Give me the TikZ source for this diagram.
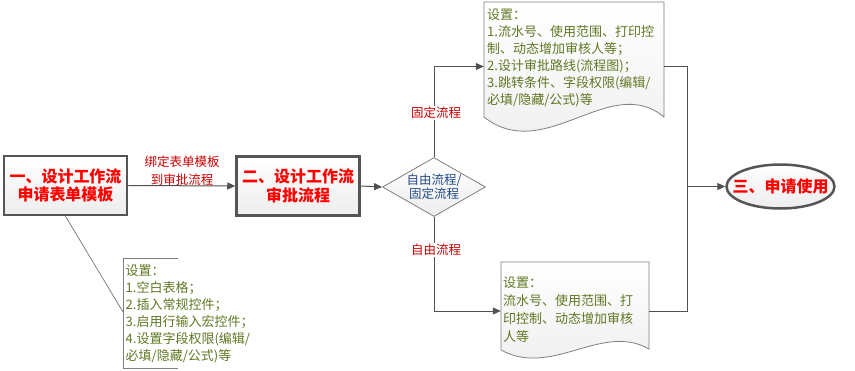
\documentclass[tikz,border=0pt]{standalone}
\usepackage{fontspec}
\setmainfont{Noto Sans CJK SC}
\usetikzlibrary{arrows.meta,shapes.geometric}
\definecolor{lineg}{RGB}{80,80,80}
\definecolor{boxb}{RGB}{85,85,85}
\definecolor{thing}{RGB}{128,128,128}
\definecolor{tred}{RGB}{255,0,0}
\definecolor{lred}{RGB}{200,0,0}
\definecolor{tgreen}{RGB}{95,120,35}
\definecolor{tblue}{RGB}{35,75,135}
\tikzset{
  mainbox/.style={draw=boxb, line width=2.5pt, top color=white, bottom color=gray!14,
    rectangle, inner sep=0pt, minimum width=123pt, minimum height=59pt,
    align=center, text=tred, font=\bfseries\fontsize{16}{18.5}\selectfont},
  thinshape/.style={draw=thing, line width=0.8pt, top color=white, bottom color=gray!14},
  conn/.style={draw=lineg, line width=1pt},
  arr/.style={conn, -{Triangle[length=8pt,width=7pt]}},
  lbl/.style={text=lred, font=\fontsize{12.5}{18}\selectfont, align=center, inner sep=1pt},
  greentext/.style={text=tgreen, align=left, inner sep=0pt, anchor=north west},
  ghost/.style={draw=none, rectangle, inner sep=0pt}
}
\begin{document}
\begin{tikzpicture}[x=1pt,y=-1pt]
\useasboundingbox (0,0) rectangle (855,370);

% main boxes
\node[mainbox] (b1) at (65.5,185.5) {一、设计工作流\\申请表单模板};
\node[mainbox] (b2) at (298,186) {二、设计工作流\\审批流程};

% diamond
\node[diamond, thinshape, minimum width=103pt, minimum height=59pt, inner sep=0pt] (dia) at (434,187) {};
\node[text=tblue, font=\fontsize{12.5}{14.5}\selectfont, align=center, inner sep=0pt] (diat) at (dia.center) {自由流程/\\固定流程};

% ellipse
\node[ellipse, draw=boxb, line width=2.5pt, top color=white, bottom color=gray!14,
  minimum width=108pt, minimum height=44pt, inner sep=0pt] (ell) at (780.5,186.5) {};
\node[text=tred, font=\bfseries\fontsize{16}{18}\selectfont, inner sep=0pt] (ellt) at (ell.center) {三、申请使用};

% documents (ghost nodes for anchors)
\node[ghost, minimum width=180pt, minimum height=129pt] (doc1) at (574,66.5) {};
\node[ghost, minimum width=148pt, minimum height=98pt] (doc2) at (575,311) {};
\path[thinshape] (484,2) -- (664,2) -- (664,117)
  .. controls (610,72) and (545,165) .. (484,117) -- cycle;
\path[thinshape] (501,262) -- (649,262) -- (649,349)
  .. controls (602,322) and (552,378) .. (501,350) -- cycle;

\node[greentext, font=\fontsize{13}{17}\selectfont] (d1t) at (487,8.5)
  {设置：\\1.流水号、使用范围、打印控\\制、动态增加审核人等；\\2.设计审批路线(流程图)；\\3.跳转条件、字段权限(编辑/\\必填/隐藏/公式)等};
\node[greentext, font=\fontsize{13}{18}\selectfont] (d2t) at (503,276.5)
  {设置：\\流水号、使用范围、打\\印控制、动态增加审核\\人等};

% annotation
\coordinate (annA) at (123,312);
\coordinate (annT) at (123,258);
\coordinate (annB) at (123,368);
\draw[draw=thing, line width=0.8pt] (178,258) -- (annT) -- (annB) -- (178,368);
\draw[draw=thing, line width=0.8pt] (b1.south) -- (annA);
\node[greentext, font=\fontsize{13}{17}\selectfont] (annt) at (125.5,264.5)
  {设置：\\1.空白表格；\\2.插入常规控件；\\3.启用行输入宏控件；\\4.设置字段权限(编辑/\\必填/隐藏/公式)等};

% connectors
\draw[arr] (b1.east) -- (b2.west);
\draw[arr] (b2.east) -- (dia.west);
\draw[arr] (dia.north) |- (doc1.west);
\draw[arr] (dia.south) |- (doc2.west);
\coordinate (mx) at (687,186.5);
\draw[conn] (doc1.east) -| (mx);
\draw[conn] (doc2.east) -| (mx);
\draw[arr] (mx) -- (ell.west);

% connector labels
\node[lbl] (l1) at (182,171) {绑定表单模板\\到审批流程};
\node[lbl, fill=white] (l2) at (436,113) {固定流程};
\node[lbl, fill=white] (l3) at (436,250) {自由流程};
\end{tikzpicture}
\end{document}
